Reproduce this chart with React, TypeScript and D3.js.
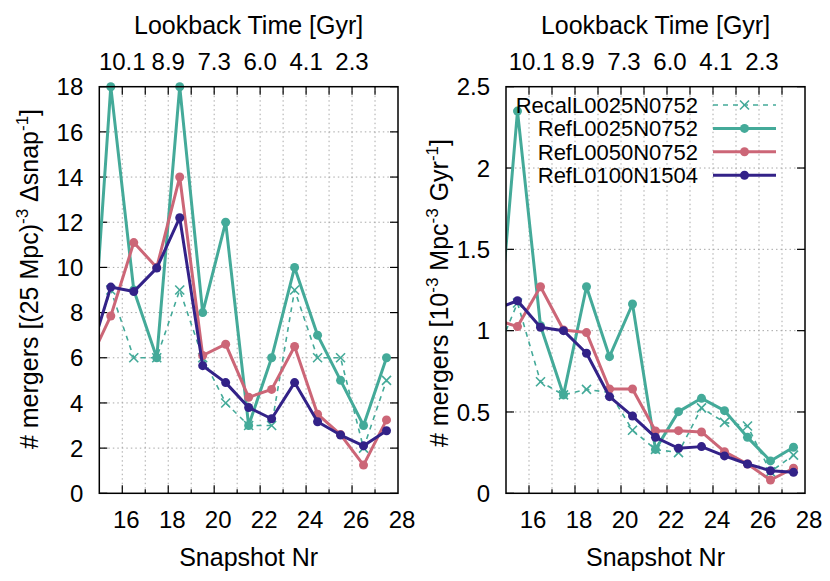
import React from "react";
import * as d3 from "d3";

// ---------- data ----------
const snapshots = [14.5, 15.5, 16.5, 17.5, 18.5, 19.5, 20.5, 21.5, 22.5, 23.5, 24.5, 25.5, 26.5, 27.5];
const seriesNames = ["RecalL0025N0752", "RefL0025N0752", "RefL0050N0752", "RefL0100N1504"];

// left panel: # mergers per (25 Mpc)^3 per snapshot
const leftRecal = [6.0, 9.0, 6.0, 6.0, 9.0, 6.0, 4.0, 3.0, 3.0, 9.0, 6.0, 6.0, 2.0, 5.0];
const leftRef25 = [3.1, 18.0, 9.0, 6.0, 18.0, 8.0, 12.0, 3.0, 6.0, 10.0, 7.0, 5.0, 3.0, 6.0];
const leftRef50 = [5.7, 7.85, 11.1, 10.0, 14.0, 6.1, 6.6, 4.25, 4.6, 6.5, 3.5, 2.6, 1.25, 3.25];
const leftRef100 = [5.8, 9.13, 8.93, 9.97, 12.2, 5.65, 4.9, 3.8, 3.3, 4.9, 3.17, 2.58, 2.1, 2.77];

// right panel: # mergers per 10^-3 Mpc^-3 Gyr^-1
const rightRecal = [0.83, 1.17, 0.686, 0.605, 0.639, 0.62, 0.388, 0.27, 0.25, 0.525, 0.436, 0.414, 0.132, 0.235];
const rightRef25 = [0.68, 2.35, 1.03, 0.605, 1.27, 0.84, 1.164, 0.27, 0.502, 0.584, 0.508, 0.344, 0.199, 0.283];
const rightRef50 = [1.07, 1.025, 1.27, 1.004, 0.988, 0.641, 0.641, 0.383, 0.385, 0.377, 0.256, 0.18, 0.082, 0.154];
const rightRef100 = [1.13, 1.184, 1.021, 1.0, 0.861, 0.594, 0.475, 0.344, 0.277, 0.287, 0.23, 0.18, 0.139, 0.129];

const xTicksMajor = [16, 18, 20, 22, 24, 26, 28];
const xTicksAll = [16, 17, 18, 19, 20, 21, 22, 23, 24, 25, 26, 27];
const topTickPos = [16, 18, 20, 22, 24, 26];
const topTickLabels = ["10.1", "8.9", "7.3", "6.0", "4.1", "2.3"];
const leftYTicks = [0, 2, 4, 6, 8, 10, 12, 14, 16, 18];
const rightYTicks = [0, 0.5, 1, 1.5, 2, 2.5];
const rightYTickLabels = ["0", "0.5", "1", "1.5", "2", "2.5"];

// ---------- styles ----------
const FONT = "'Liberation Sans', Arial, Helvetica, sans-serif";
const TEAL = "#44AA99";
const ROSE = "#CC6677";
const INDIGO = "#332288";
const colors = [TEAL, TEAL, ROSE, INDIGO];

type PanelProps = {
  id: string;
  left: number;
  right: number;
  top: number;
  bottom: number;
  yMax: number;
  yTicks: number[];
  yTickLabels: string[];
  data: number[][];
  yLabel: React.ReactNode;
  yLabelX: number;
  yLabelY: number;
  topDx: number;
  legend?: boolean;
};

function XMark({ x, y, s, color, w }: { x: number; y: number; s: number; color: string; w: number }) {
  return (
    <g stroke={color} strokeWidth={w}>
      <line x1={x - s} y1={y - s} x2={x + s} y2={y + s} />
      <line x1={x - s} y1={y + s} x2={x + s} y2={y - s} />
    </g>
  );
}

function Panel(p: PanelProps) {
  const x = d3.scaleLinear().domain([15, 28]).range([p.left, p.right]);
  const y = d3.scaleLinear().domain([0, p.yMax]).range([p.bottom, p.top]);
  const line = d3
    .line<[number, number]>()
    .x((d) => x(d[0]))
    .y((d) => y(d[1]));
  const pts = (vals: number[]) => snapshots.map((s, i) => [s, vals[i]] as [number, number]);
  const clipId = "clip-" + p.id;
  const inRange = (s: number) => s >= 15 && s <= 28;

  return (
    <g>
      <defs>
        <clipPath id={clipId}>
          <rect x={p.left} y={p.top - 6} width={p.right - p.left} height={p.bottom - p.top + 12} />
        </clipPath>
      </defs>
      {/* grid */}
      <g stroke="#a8a8a8" strokeWidth={1} strokeDasharray="1.5,3">
        {xTicksAll.map((t) => (
          <line key={"gx" + t} x1={x(t)} x2={x(t)} y1={p.top} y2={p.bottom} />
        ))}
        {p.yTicks.slice(1, -1).map((t) => (
          <line key={"gy" + t} x1={p.left} x2={p.right} y1={y(t)} y2={y(t)} />
        ))}
      </g>
      {/* ticks */}
      <g stroke="#000" strokeWidth={1.2}>
        {xTicksAll.map((t) => (
          <line key={"tt" + t} x1={x(t)} x2={x(t)} y1={p.top} y2={p.top + 8} />
        ))}
        {xTicksAll.map((t) => (
          <line key={"bt" + t} x1={x(t)} x2={x(t)} y1={p.bottom} y2={p.bottom - (t % 2 === 0 ? 8 : 4)} />
        ))}
        {p.yTicks.map((t) => (
          <g key={"yt" + t}>
            <line x1={p.left} x2={p.left + 8} y1={y(t)} y2={y(t)} />
            <line x1={p.right} x2={p.right - 8} y1={y(t)} y2={y(t)} />
          </g>
        ))}
      </g>
      {/* series */}
      <g clipPath={`url(#${clipId})`}>
        <path
          d={line(pts(p.data[0])) || ""}
          fill="none"
          stroke={colors[0]}
          strokeWidth={1.6}
          strokeDasharray="5,5"
        />
        {snapshots.map((s, i) =>
          inRange(s) ? <XMark key={"rx" + i} x={x(s)} y={y(p.data[0][i])} s={4.5} color={colors[0]} w={1.6} /> : null
        )}
        {[1, 2, 3].map((k) => (
          <g key={"s" + k}>
            <path d={line(pts(p.data[k])) || ""} fill="none" stroke={colors[k]} strokeWidth={3} strokeLinejoin="round" />
            {snapshots.map((s, i) =>
              inRange(s) ? <circle key={i} cx={x(s)} cy={y(p.data[k][i])} r={4.5} fill={colors[k]} /> : null
            )}
          </g>
        ))}
      </g>
      {/* frame */}
      <rect x={p.left} y={p.top} width={p.right - p.left} height={p.bottom - p.top} fill="none" stroke="#000" strokeWidth={1.5} />
      {/* tick labels */}
      <g fontFamily={FONT} fontSize={24} fill="#000">
        {xTicksMajor.map((t) => (
          <text key={"bl" + t} x={x(t) + 4} y={p.bottom + 35} textAnchor="middle">
            {t}
          </text>
        ))}
        {topTickPos.map((t, i) => (
          <text key={"tl" + t} x={x(t) + p.topDx} y={p.top - 17} textAnchor="middle">
            {topTickLabels[i]}
          </text>
        ))}
        {p.yTicks.map((t, i) => (
          <text key={"yl" + t} x={p.left - 16} y={y(t)} dy="0.36em" textAnchor="end">
            {p.yTickLabels[i]}
          </text>
        ))}
      </g>
      {/* axis labels */}
      <g fontFamily={FONT} fontSize={25} fill="#000">
        <text x={(p.left + p.right) / 2} y={33.5} textAnchor="middle">
          Lookback Time [Gyr]
        </text>
        <text x={(p.left + p.right) / 2} y={566} textAnchor="middle">
          Snapshot Nr
        </text>
        <text transform={`translate(${p.yLabelX},${p.yLabelY}) rotate(-90)`} textAnchor="middle">
          {p.yLabel}
        </text>
      </g>
      {/* legend */}
      {p.legend ? (
        <g fontFamily={FONT} fontSize={22} fill="#000">
          {seriesNames.map((name, k) => {
            const ry = 105 + k * 23.4;
            return (
              <g key={name}>
                <text x={698} y={ry} dy="0.36em" textAnchor="end">
                  {name}
                </text>
                {k === 0 ? (
                  <g>
                    <line x1={713} x2={776} y1={ry} y2={ry} stroke={colors[0]} strokeWidth={1.6} strokeDasharray="5,5" />
                    <XMark x={744.5} y={ry} s={4.5} color={colors[0]} w={1.6} />
                  </g>
                ) : (
                  <g>
                    <line x1={713} x2={776} y1={ry} y2={ry} stroke={colors[k]} strokeWidth={3} />
                    <circle cx={744.5} cy={ry} r={4.5} fill={colors[k]} />
                  </g>
                )}
              </g>
            );
          })}
        </g>
      ) : null}
    </g>
  );
}

export default function App() {
  const leftLabel = (
    <>
      <tspan># mergers [(25 Mpc)</tspan>
      <tspan dy="-10" fontSize={17}>-3</tspan>
      <tspan dy="10"> Δsnap</tspan>
      <tspan dy="-10" fontSize={17}>-1</tspan>
      <tspan dy="10">]</tspan>
    </>
  );
  const rightLabel = (
    <>
      <tspan># mergers [10</tspan>
      <tspan dy="-10" fontSize={17}>-3</tspan>
      <tspan dy="10"> Mpc</tspan>
      <tspan dy="-10" fontSize={17}>-3</tspan>
      <tspan dy="10"> Gyr</tspan>
      <tspan dy="-10" fontSize={17}>-1</tspan>
      <tspan dy="10">]</tspan>
    </>
  );
  return (
    <svg
      width={830}
      height={581}
      style={{ position: "absolute", left: 0, top: 0, background: "#fff" }}
      xmlns="http://www.w3.org/2000/svg"
    >
      <rect x={0} y={0} width={830} height={581} fill="#fff" />
      <Panel
        id="l"
        left={99.3}
        right={398}
        top={86.7}
        bottom={493.3}
        yMax={18}
        yTicks={leftYTicks}
        yTickLabels={leftYTicks.map(String)}
        data={[leftRecal, leftRef25, leftRef50, leftRef100]}
        yLabel={leftLabel}
        yLabelX={38}
        yLabelY={279}
        topDx={0}
      />
      <Panel
        id="r"
        left={506}
        right={805}
        top={86.7}
        bottom={493.3}
        yMax={2.5}
        yTicks={rightYTicks}
        yTickLabels={rightYTickLabels}
        data={[rightRecal, rightRef25, rightRef50, rightRef100]}
        yLabel={rightLabel}
        yLabelX={448}
        yLabelY={293}
        topDx={3}
        legend
      />
    </svg>
  );
}
